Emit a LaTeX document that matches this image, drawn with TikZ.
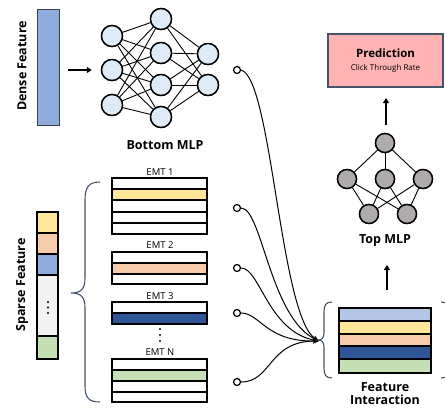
\documentclass[tikz,border=0pt]{standalone}
\usepackage{fontspec}
\setmainfont{Open Sans}
\usetikzlibrary{arrows.meta}
\definecolor{mlpblue}{HTML}{DEEBF7}
\definecolor{mlpgray}{HTML}{AFABAB}
\definecolor{fyellow}{HTML}{FFE699}
\definecolor{fpeach}{HTML}{F8CBAD}
\definecolor{fblue}{HTML}{8FAADC}
\definecolor{flblue}{HTML}{B4C7E7}
\definecolor{fgray}{HTML}{F2F2F2}
\definecolor{fgreen}{HTML}{C5E0B4}
\definecolor{fdark}{HTML}{2F5597}
\definecolor{predpink}{HTML}{FFB3B3}
\definecolor{slate}{HTML}{44546A}
\begin{document}
\begin{tikzpicture}[x=1pt,y=-1pt,
  bnode/.style={circle,draw,line width=1.4pt,fill=mlpblue,minimum size=21pt,inner sep=0pt},
  tnode/.style={circle,draw,line width=1.4pt,fill=mlpgray,minimum size=19pt,inner sep=0pt},
  link/.style={line width=0.9pt},
  row/.style={draw,line width=1.2pt},
  port/.style={circle,draw,line width=1.2pt,fill=white,minimum size=7pt,inner sep=0pt},
  wire/.style={line width=1pt,-{Stealth[length=6pt,width=5pt]}},
  bigarrow/.style={line width=1.6pt,-{Triangle[length=5pt,width=6pt]}},
  brace/.style={draw=slate,line width=1.1pt},
  lbl/.style={font=\bfseries\fontsize{12.5}{14}\selectfont},
  emt/.style={font=\fontsize{9.5}{11}\selectfont},
]
\useasboundingbox (0,0) rectangle (445,408);

% Dense feature
\node[draw=black!75,line width=1pt,fill=fblue,minimum width=22pt,minimum height=116pt,inner sep=0pt] (dense) at (48,67) {};
\node[lbl,rotate=90] (densel) at (22,66) {Dense Feature};

% Bottom MLP
\node[bnode] (b11) at (112,36) {};
\node[bnode] (b12) at (112,70) {};
\node[bnode] (b13) at (112,105) {};
\node[bnode] (b21) at (161,19) {};
\node[bnode] (b22) at (161,53) {};
\node[bnode] (b23) at (161,85) {};
\node[bnode] (b24) at (161,117) {};
\node[bnode] (b31) at (208,54) {};
\node[bnode] (b32) at (208,85) {};
\foreach \a in {b11,b12,b13}{\foreach \b in {b21,b22,b23,b24}{\draw[link] (\a) -- (\b);}}
\foreach \a in {b21,b22,b23,b24}{\foreach \b in {b31,b32}{\draw[link] (\a) -- (\b);}}
\foreach \x/\y in {112/36,112/70,112/105,161/19,161/53,161/85,161/117,208/54,208/85}{\node[bnode] at (\x,\y) {};}
\node[lbl] (bml) at (165,145) {Bottom MLP};
\draw[bigarrow,shorten <=8pt,shorten >=9pt] (dense.east |- b12) -- (b12.west);

% Sparse feature
\draw[row,fill=fyellow] (37,212) rectangle (58,233);
\draw[row,fill=fpeach] (37,233) rectangle (58,254);
\draw[row,fill=fblue] (37,254) rectangle (58,275);
\draw[row,fill=fgray] (37,275) rectangle (58,336);
\draw[row,fill=fgreen] (37,336) rectangle (58,359);
\foreach \y in {302,307.5,313}{\fill (48,\y) circle (1.1pt);}
\node[lbl,rotate=90] (sparsel) at (22,285) {Sparse Feature};

% big brace
\draw[brace] (100,182) .. controls (89,182) and (85,187) .. (85,200) -- (85,278) .. controls (85,289) and (81,293) .. (71,293) .. controls (81,293) and (85,297) .. (85,308) -- (85,386) .. controls (85,398) and (89,402) .. (100,402);

% EMT tables
\node[emt] (e1) at (160,172) {EMT 1};
\draw[row,fill=white] (112,178) rectangle (207,189);
\draw[row,fill=fyellow] (112,189) rectangle (207,200);
\draw[row,fill=white] (112,200) rectangle (207,212);
\draw[row,fill=white] (112,212) rectangle (207,223);
\draw[row,fill=white] (112,223) rectangle (207,234);

\node[emt] (e2) at (160,245) {EMT 2};
\draw[row,fill=white] (112,252) rectangle (207,263);
\draw[row,fill=fpeach] (112,263) rectangle (207,274);
\draw[row,fill=white] (112,274) rectangle (207,284);

\node[emt] (e3) at (160,296) {EMT 3};
\draw[row,fill=white] (112,302) rectangle (207,313);
\draw[row,fill=fdark] (112,313) rectangle (207,324);

\foreach \y in {329,335,341}{\fill (160,\y) circle (1.1pt);}

\node[emt] (en) at (160,352) {EMT N};
\draw[row,fill=white] (112,359) rectangle (207,370);
\draw[row,fill=fgreen] (112,370) rectangle (207,381);
\draw[row,fill=white] (112,381) rectangle (207,392);
\draw[row,fill=white] (112,392) rectangle (207,402);

% ports and wires
\node[port] (c0) at (237,70) {};
\node[port] (c1) at (237,208) {};
\node[port] (c2) at (237,268) {};
\node[port] (c3) at (237,313) {};
\node[port] (c4) at (237,382) {};
\coordinate (conv) at (319,341);
\draw[wire] (c0.east) .. controls (272,78) and (280,318) .. (conv);
\draw[wire] (c1.east) .. controls (262,208) and (270,318) .. (conv);
\draw[wire] (c2.east) .. controls (260,268) and (268,332) .. (conv);
\draw[wire] (c3.east) .. controls (260,313) and (266,342) .. (conv);
\draw[wire] (c4.east) .. controls (272,382) and (268,341) .. (conv);

% Feature interaction
\draw[row,fill=flblue] (339,308) rectangle (431,321);
\draw[row,fill=fyellow] (339,321) rectangle (431,334);
\draw[row,fill=fpeach] (339,334) rectangle (431,346);
\draw[row,fill=fdark] (339,346) rectangle (431,359);
\draw[row,fill=fgreen] (339,359) rectangle (431,373);
\draw[line width=1.8pt] (339,308) rectangle (431,373);
\draw[brace] (332,302) .. controls (326,302) and (324,305) .. (324,312) -- (324,332) .. controls (324,338) and (322,340) .. (318,340) .. controls (322,340) and (324,342) .. (324,348) -- (324,368) .. controls (324,375) and (326,378) .. (332,378);
\draw[brace] (441,302) .. controls (447,302) and (449,305) .. (449,312) -- (449,368) .. controls (449,375) and (447,378) .. (441,378);
\node[lbl,align=center,inner sep=0pt] (fil) at (385,394) {Feature\\[-1pt]Interaction};

% Top MLP
\node[tnode] (t0) at (385,143) {};
\node[tnode] (t11) at (347,179) {};
\node[tnode] (t12) at (385,179) {};
\node[tnode] (t13) at (423,179) {};
\node[tnode] (t21) at (369,214) {};
\node[tnode] (t22) at (407,214) {};
\foreach \b in {t11,t12,t13}{\draw[link] (t0) -- (\b);}
\foreach \a in {t11,t12,t13}{\foreach \b in {t21,t22}{\draw[link] (\a) -- (\b);}}
\foreach \x/\y in {385/143,347/179,385/179,423/179,369/214,407/214}{\node[tnode] at (\x,\y) {};}
\node[lbl] (tml) at (385,241) {Top MLP};

% Prediction
\node[draw=slate,line width=1.8pt,fill=predpink,minimum width=115pt,minimum height=53pt,inner sep=0pt,align=center] (pred) at (385.5,60.5) {{\bfseries\fontsize{11.5}{13}\selectfont Prediction}\\[1pt]{\fontsize{8}{9}\selectfont Click Through Rate}};

\coordinate (a1s) at (386,125);
\coordinate (a1e) at (386,98);
\coordinate (a2s) at (387,290);
\coordinate (a2e) at (387,265);
\draw[bigarrow,line width=1.4pt] (a1s) -- (a1e);
\draw[bigarrow,line width=1.4pt] (a2s) -- (a2e);
\end{tikzpicture}
\end{document}
